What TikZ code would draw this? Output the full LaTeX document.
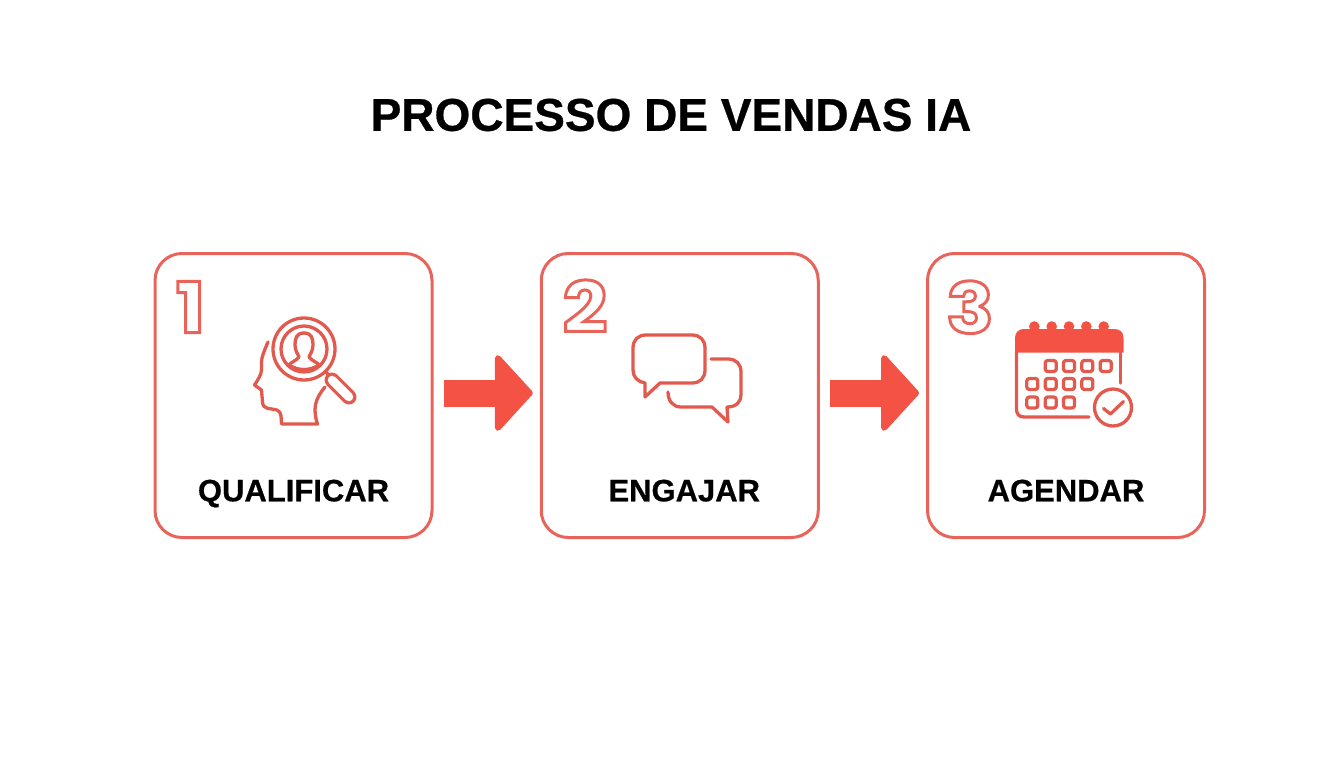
\documentclass[tikz,border=0pt]{standalone}
\usepackage{fontspec}
\setmainfont[BoldFeatures={FakeBold=0.6}]{Liberation Sans}
\newfontfamily\digitfont[FakeStretch=1.12]{Poppins Bold}
\usetikzlibrary{arrows.meta}
\definecolor{boxline}{HTML}{E8645A}
\definecolor{iconline}{HTML}{E25A4E}
\definecolor{arrowfill}{HTML}{F45245}
\tikzset{
	step box/.style = {draw = boxline, line width = 3pt, rounded corners = 27pt, minimum width = 277pt, minimum height = 284pt},
	step label/.style = {font = \fontsize{31}{31}\selectfont\bfseries, node distance = 95pt, text depth = 0pt},
	step number/.style = {font = \digitfont\fontsize{70}{70}\selectfont, inner sep = 0pt, text depth = 0pt},
	icon/.style = {draw = iconline, line width = 3.3pt, line cap = round, line join = round},
	step arrow/.style = {arrowfill, line width = 27pt, -{Triangle[length = 39pt, width = 84pt, round, line width = 6pt]}}
}
\newcommand{\stepdigit}[1]{\special{pdf:code 1 Tr 3 w 0.91 0.39 0.35 RG}#1\special{pdf:code 0 Tr}}
\begin{document}
\begin{tikzpicture}[x = 1pt, y = -1pt, node distance = 386.25pt]
	\useasboundingbox (0,0) rectangle (1344,768);

	% Title
	\node (title) at (671,115) [font = \fontsize{46}{46}\selectfont\bfseries] {PROCESSO DE VENDAS IA};

	% Nodes
	\node (box_qualificar) at (293.5,395.5) [step box] {};
	\node (box_engajar) [right of=box_qualificar, step box] {};
	\node (box_agendar) [right of=box_engajar, step box] {};

	\node (label_qualificar) [below of=box_qualificar, step label] {QUALIFICAR};
	\node (label_engajar) [below of=box_engajar, step label, xshift = 4.5pt] {ENGAJAR};
	\node (label_agendar) [below of=box_agendar, step label] {AGENDAR};

	\node (number_one) at (190.5,307) [step number] {\stepdigit{1}};
	\node (number_two) at (585,306) [step number] {\stepdigit{2}};
	\node (number_three) at (970,307) [step number] {\stepdigit{3}};

	% Arrows
	\draw [step arrow, shorten <= 10pt, shorten >= 7pt] ([yshift = 2.5pt]box_qualificar.east) -- ([yshift = 2.5pt]box_engajar.west);
	\draw [step arrow, shorten <= 10pt, shorten >= 7pt] ([yshift = 2.5pt]box_engajar.east) -- ([yshift = 2.5pt]box_agendar.west);

	% Head with magnifier
	\draw [icon] plot [smooth, tension = 0.6] coordinates {(268,342) (262,358) (261,373) (254.5,385)};
	\draw [icon] (254.5,385) -- (261.5,390) -- (262.5,402) .. controls (263,410) and (270,408) .. (277,410) .. controls (282,412) and (281,418) .. (281.5,424) -- (317.5,424) .. controls (313,410) and (314,400) .. (325,387);
	\draw [icon] (304,349) circle (31pt);
	\draw [icon] (304,349) circle (23pt);
	\draw [icon] (304,333) .. controls (296,333) and (295,339) .. (295,345) .. controls (295,351) and (298,354) .. (299,357) .. controls (296,361) and (291,362) .. (289,365);
	\draw [icon] (304,333) .. controls (312,333) and (313,339) .. (313,345) .. controls (313,351) and (310,354) .. (309,357) .. controls (312,361) and (317,362) .. (319,365);
	\draw [icon] (289,365) .. controls (298,371) and (310,371) .. (319,365);
	\draw [icon] (326,372) -- (331,378);
	\draw [icon, line width = 15pt] (332,380) -- (349,397);
	\draw [white, line width = 8.5pt, line cap = round] (332,380) -- (349,397);

	% Speech bubbles
	\draw [icon] (646,335) -- (692,335) .. controls (700,335) and (705,340) .. (705,348) -- (705,370) .. controls (705,378) and (700,383) .. (692,383) -- (660,383) -- (645,397) -- (645,383) .. controls (638,382) and (633,377) .. (633,370) -- (633,348) .. controls (633,340) and (638,335) .. (646,335) -- cycle;
	\draw [icon] (711,359) -- (728,359) .. controls (736,359) and (741,364) .. (741,372) -- (741,395) .. controls (741,402) and (736,407) .. (727,407) -- (728,422) -- (712,407) -- (681,407) .. controls (673,407) and (668,401) .. (668,392);

	% Calendar
	\fill [arrowfill] (1015,352.5) -- (1015,338) .. controls (1015,332) and (1019,329) .. (1024,329) -- (1114,329) .. controls (1120,329) and (1123.5,332) .. (1123.5,338) -- (1123.5,352.5) -- cycle;
	\foreach \ringx in {1034.3,1051.7,1069,1086.3,1103.7}
		\fill [arrowfill] (\ringx,326.5) circle (5.3pt);
	\draw [icon] (1016.5,352) -- (1016.5,409) .. controls (1016.5,414) and (1019,417) .. (1024,417) -- (1089,417);
	\draw [icon] (1120.5,352) -- (1120.5,383);
	\foreach \cellx in {1050.7,1069,1087.3,1105.7}
		\draw [icon, rounded corners = 2.5pt] (\cellx-5.5,360.5) rectangle (\cellx+5.5,371.5);
	\foreach \cellx in {1032.3,1050.7,1069,1087.3}
		\draw [icon, rounded corners = 2.5pt] (\cellx-5.5,378.5) rectangle (\cellx+5.5,389.5);
	\foreach \cellx in {1032.3,1050.7,1069}
		\draw [icon, rounded corners = 2.5pt] (\cellx-5.5,397) rectangle (\cellx+5.5,408);
	\draw [icon] (1113,407.5) circle (18.5pt);
	\draw [icon] (1103.5,408.5) -- (1110.5,414) -- (1123.5,401.5);
\end{tikzpicture}
\end{document}
